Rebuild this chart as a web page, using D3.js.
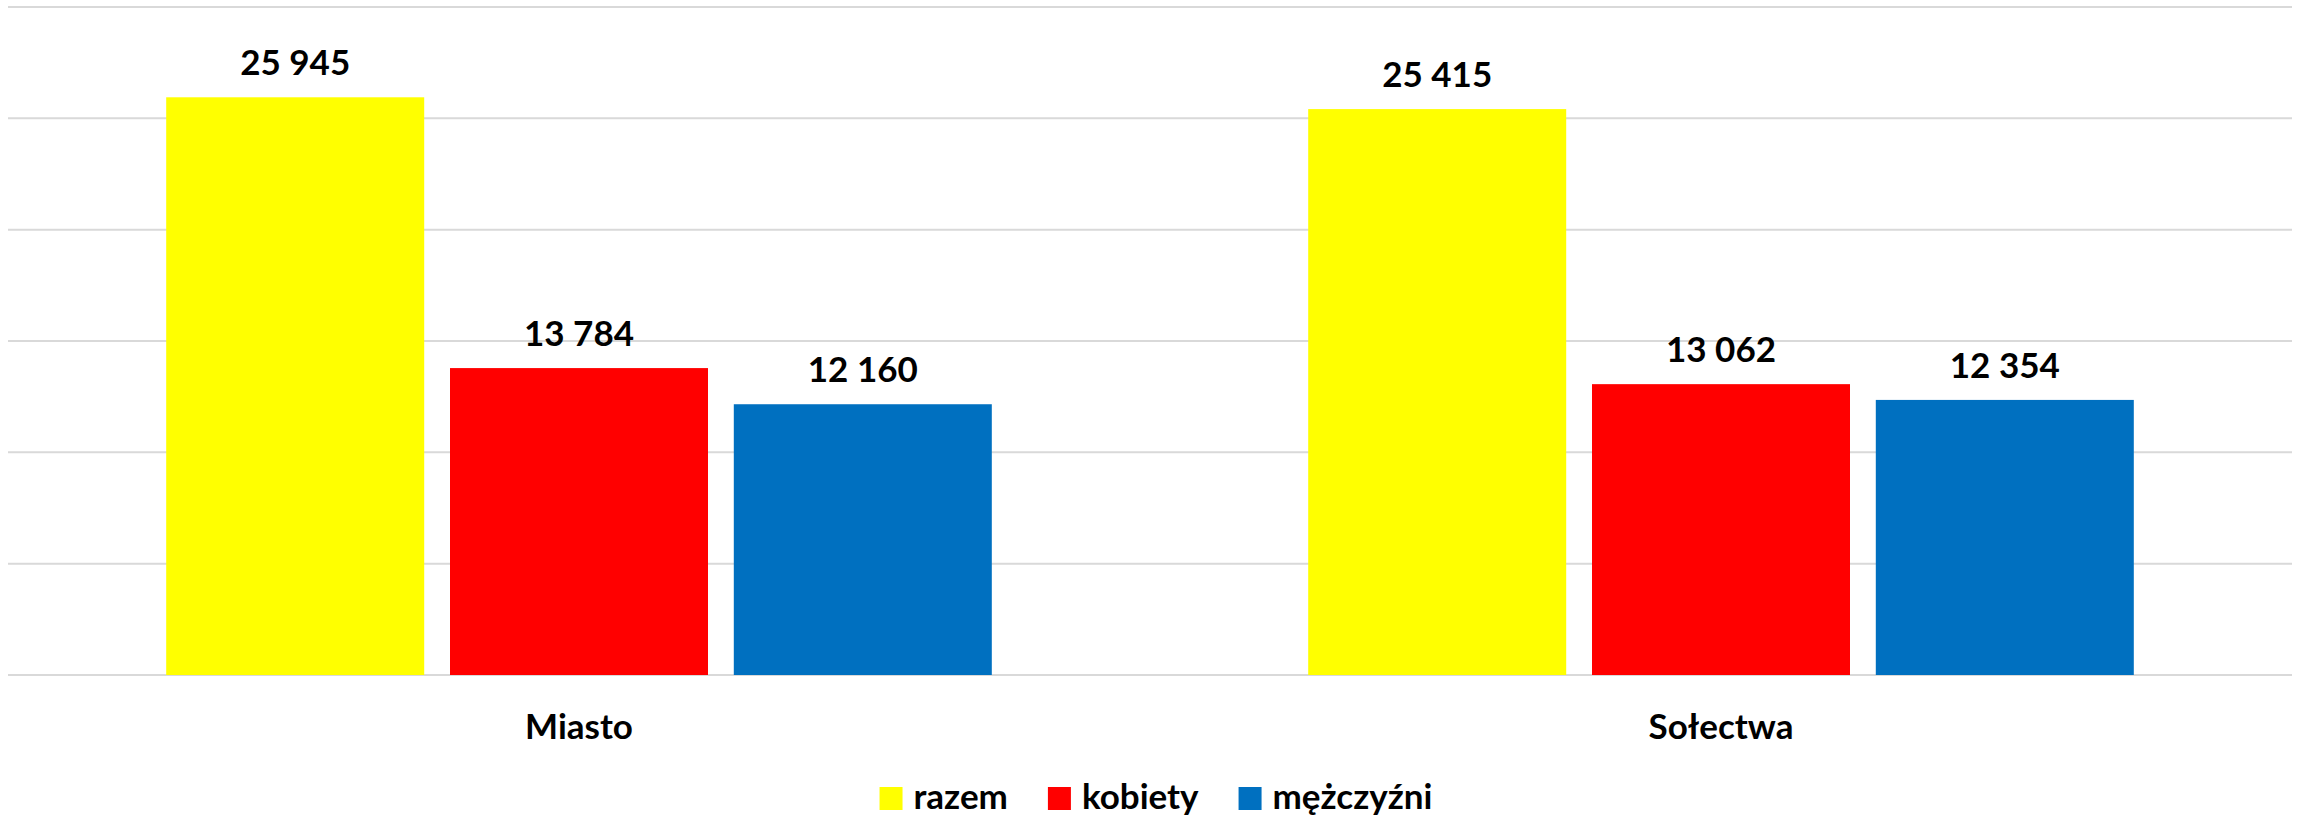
<!DOCTYPE html>
<html lang="pl">
<head>
<meta charset="UTF-8">
<title>Ludność</title>
<style>
  body { margin: 0; background: #fff; }
  text { font-family: Lato, "Open Sans", sans-serif; font-weight: bold; fill: #000; }
</style>
</head>
<body>
<script src="https://cdn.jsdelivr.net/npm/d3@7"></script>
<script>
// dane
var categories = ['Miasto', 'Sołectwa'];
var series = ['razem', 'kobiety', 'mężczyźni'];
var colors = ['#FFFF00', '#FF0000', '#0070C0'];
var razem = [25945, 25415];
var kobiety = [13784, 13062];
var mezczyzni = [12160, 12354];
var yTicks = [0, 5000, 10000, 15000, 20000, 25000, 30000];

var values = [razem, kobiety, mezczyzni];
var width = 2302, height = 819;
var plotLeft = 8, plotRight = 2292, plotTop = 7, plotBottom = 675;

var svg = d3.select('body').append('svg').attr('width', width).attr('height', height);

var x = d3.scaleBand().domain(categories).range([plotLeft, plotRight]).padding(0);
var groupW = 825.6;
var xi = d3.scaleBand().domain(series).range([0, groupW]).paddingInner(0.0909);
var y = d3.scaleLinear().domain([0, 30000]).range([plotBottom, plotTop]);

// siatka
svg.append('g').selectAll('line').data(yTicks).enter().append('line')
  .attr('x1', plotLeft).attr('x2', plotRight)
  .attr('y1', function(d){ return y(d); }).attr('y2', function(d){ return y(d); })
  .attr('stroke', '#D9D9D9').attr('stroke-width', 2);

var data = [];
categories.forEach(function(c, i){
  series.forEach(function(s, j){
    data.push({cat: c, ser: s, val: values[j][i], col: colors[j]});
  });
});

var off = (x.bandwidth() - groupW) / 2;
var fmt = function(v){ return d3.format(',')(v).replace(/,/g, ' '); };

svg.append('g').selectAll('rect').data(data).enter().append('rect')
  .attr('x', function(d){ return x(d.cat) + off + xi(d.ser); })
  .attr('y', function(d){ return y(d.val); })
  .attr('width', xi.bandwidth())
  .attr('height', function(d){ return y(0) - y(d.val); })
  .attr('fill', function(d){ return d.col; });

svg.append('g').selectAll('text').data(data).enter().append('text')
  .attr('x', function(d){ return x(d.cat) + off + xi(d.ser) + xi.bandwidth() / 2; })
  .attr('y', function(d){ return y(d.val) - 22; })
  .attr('text-anchor', 'middle').attr('font-size', 35)
  .text(function(d){ return fmt(d.val); });

// etykiety kategorii
svg.append('g').selectAll('text').data(categories).enter().append('text')
  .attr('x', function(d){ return x(d) + x.bandwidth() / 2; })
  .attr('y', 739)
  .attr('text-anchor', 'middle').attr('font-size', 35)
  .text(function(d){ return d; });

// legenda
var leg = svg.append('g');
var items = leg.selectAll('g').data(series).enter().append('g');
items.append('rect').attr('width', 23).attr('height', 23).attr('y', 787)
  .attr('fill', function(d, i){ return colors[i]; });
items.append('text').attr('x', 34).attr('y', 809).attr('font-size', 35)
  .text(function(d){ return d; });
var pos = 0, starts = [];
items.each(function(){
  starts.push(pos);
  var w = d3.select(this).select('text').node().getComputedTextLength();
  pos += 34 + w + 40;
});
var total = pos - 40;
var lx = 1156 - total / 2;
items.attr('transform', function(d, i){ return 'translate(' + (lx + starts[i]) + ',0)'; });
</script>
</body>
</html>
